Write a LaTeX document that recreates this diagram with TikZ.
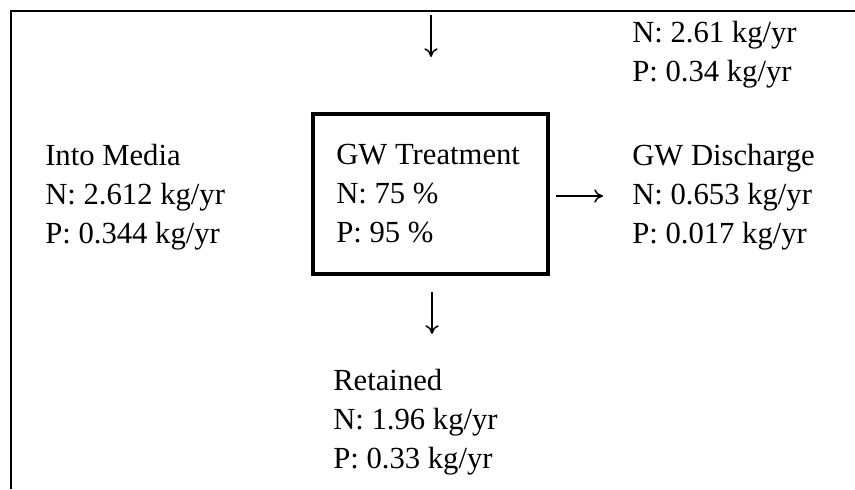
\documentclass[tikz,border=0pt]{standalone}
\usepackage{fontspec}
\setmainfont{Liberation Serif}
\usetikzlibrary{arrows.meta}
\tikzset{
  lbl/.style={anchor=base west, inner sep=0pt, align=left, font=\fontsize{23}{28.9}\selectfont},
  frame/.style={line width=2pt},
  boxed/.style={draw, line width=2.4pt, minimum width=235*0.75pt, minimum height=160*0.75pt, inner sep=0pt},
  arr/.style={line width=1.1pt, -{To[length=6.5pt,width=10pt]}}
}
\begin{document}
\begin{tikzpicture}[x=0.75pt,y=-0.75pt]
\useasboundingbox (0,0) rectangle (855,489);
% frame (top and left edges)
\coordinate (fa) at (11,489);
\coordinate (fb) at (11,11);
\coordinate (fc) at (856,11);
\draw[frame] (fa) -- (fb) -- (fc);
% box
\node[boxed] (box) at (430.5,194) {};
% texts (anchored at the baseline of their last line)
\node[lbl] (treat) at (336,242) {GW Treatment\\N: 75 \%\\P: 95 \%};
\node[lbl] (media) at (45,243) {Into Media\\N: 2.612 kg/yr\\P: 0.344 kg/yr};
\node[lbl] (disch) at (632,243) {GW Discharge\\N: 0.653 kg/yr\\P: 0.017 kg/yr};
\node[lbl] (topr) at (632,81) {N: 2.61 kg/yr\\P: 0.34 kg/yr};
\node[lbl] (ret) at (333,468) {Retained\\N: 1.96 kg/yr\\P: 0.33 kg/yr};
% arrows
\coordinate (topin) at (431,15);
\coordinate (topout) at (431,57);
\draw[arr] (topin) -- (topout);
\coordinate (r1) at (556,196);
\coordinate (r2) at (603,196);
\draw[arr] (r1) -- (r2);
\coordinate (d1) at (432,292);
\coordinate (d2) at (432,334);
\draw[arr] (d1) -- (d2);
\end{tikzpicture}
\end{document}
